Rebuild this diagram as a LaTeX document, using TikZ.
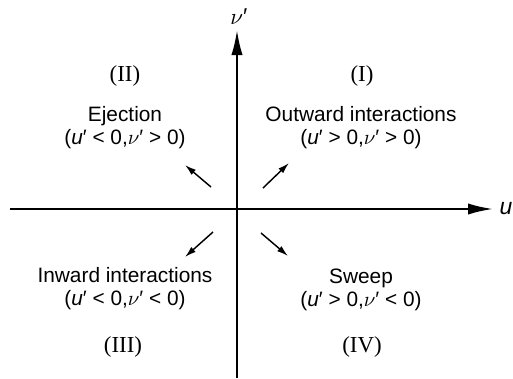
\documentclass[tikz,border=0pt]{standalone}
\usepackage{fontspec}
\setmainfont{Liberation Sans}
\newfontfamily\romfont{Liberation Serif}
\usetikzlibrary{arrows.meta}
\newcommand{\up}{\textit{u}′}
\newcommand{\vp}{$\nu$′}

\begin{document}
\begin{tikzpicture}[
  x=0.48pt,y=-0.48pt,
  axis/.style={line width=1pt,-{Latex[length=12pt,width=5.4pt]}},
  flow/.style={line width=0.7pt,-{Latex[length=5.4pt,width=3.2pt]}},
  quad/.style={inner sep=0pt,font=\romfont\fontsize{11}{12}\selectfont},
  event/.style={inner sep=0pt,align=center,font=\fontsize{10}{11}\selectfont}
]
\useasboundingbox (0,0) rectangle (513,379);
% axes
\coordinate (ustart) at (10,209);
\coordinate (uend) at (493,209);
\coordinate (vstart) at (237,378);
\coordinate (vend) at (237,30);
\draw[axis] (ustart) -- (uend);
\draw[axis] (vstart) -- (vend);
\node[anchor=west,inner sep=3pt,font=\fontsize{11}{12}\selectfont] (ulab) at (uend) {\textit{u}};
\node[inner sep=0pt,font=\fontsize{11}{12}\selectfont] (vlab) at (239,17) {\vp};
% quadrant numbers
\foreach \nm/\x/\y/\lab in {q1/362/76/(I),q2/125/76/(II),q3/123/347/(III),q4/362/347/(IV)}{
  \node[quad] (\nm) at (\x,\y) {\lab};
}
% quadrant events
\node[event] (outward) at (361,128) {Outward interactions\\(\up{} > 0,\vp{} > 0)};
\node[event] (eject) at (125,128) {Ejection\\(\up{} < 0,\vp{} > 0)};
\node[event] (inward) at (125,289) {Inward interactions\\(\up{} < 0,\vp{} < 0)};
\node[event] (sweep) at (361,290) {Sweep\\(\up{} > 0,\vp{} < 0)};
% motion arrows
\foreach \nm/\xa/\ya/\xb/\yb in {m1/263/188/289/163,m2/211/187/185/165,m3/213/232/185/257,m4/261/233/288/256}{
  \coordinate (\nm s) at (\xa,\ya);
  \coordinate (\nm e) at (\xb,\yb);
  \draw[flow] (\nm s) -- (\nm e);
}
\end{tikzpicture}
\end{document}
